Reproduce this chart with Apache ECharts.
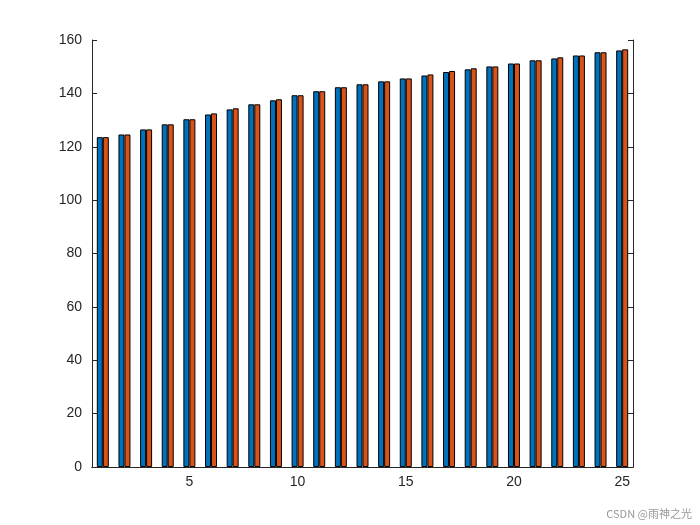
<!DOCTYPE html>
<html>
<head>
<meta charset="utf-8">
<script src="https://cdn.jsdelivr.net/npm/echarts@6/dist/echarts.min.js"></script>
<style>html,body{margin:0;padding:0;background:#fff}#c{width:700px;height:525px}</style>
</head>
<body>
<div id="c"></div>
<script>
// categories 1..25
const categories = ['1','2','3','4','5','6','7','8','9','10','11','12','13','14','15','16','17','18','19','20','21','22','23','24','25'];
const seriesA = [123.6,124.6,126.5,128.4,130.3,132.1,134.0,135.9,137.4,139.3,140.8,142.3,143.4,144.5,145.6,146.7,148.0,149.0,150.1,151.2,152.4,153.1,154.2,155.4,156.1];
const seriesB = [123.6,124.6,126.5,128.4,130.3,132.5,134.4,135.9,137.8,139.3,140.8,142.3,143.4,144.5,145.6,147.1,148.4,149.4,150.1,151.2,152.4,153.5,154.2,155.4,156.5];
const yTicks = [0,20,40,60,80,100,120,140,160];

const showTick = (i) => (i + 1) % 5 === 0;
const axisLine = { show: true, lineStyle: { color: '#262626', width: 1 } };
const font = { color: '#262626', fontSize: 14, fontFamily: 'Liberation Sans, Arial' };

const chart = echarts.init(document.getElementById('c'));
chart.setOption({
  animation: false,
  grid: { left: 92, right: 67, top: 40, bottom: 58 },
  xAxis: [
    {
      type: 'category', data: categories, axisLine: axisLine,
      axisTick: { inside: true, alignWithLabel: true, interval: showTick, length: 5, lineStyle: { color: '#262626' } },
      axisLabel: Object.assign({ interval: showTick, margin: 8 }, font),
      splitLine: { show: false }
    },
    {
      type: 'category', data: categories, position: 'top', axisLine: axisLine,
      axisTick: { inside: true, alignWithLabel: true, interval: showTick, length: 5, lineStyle: { color: '#262626' } },
      axisLabel: { show: false }
    }
  ],
  yAxis: [
    {
      type: 'value', min: 0, max: 160, interval: 20, axisLine: axisLine,
      axisTick: { show: true, inside: true, length: 5, lineStyle: { color: '#262626' } },
      axisLabel: Object.assign({ margin: 10 }, font),
      splitLine: { show: false }
    },
    {
      type: 'value', min: 0, max: 160, interval: 20, position: 'right', axisLine: axisLine,
      axisTick: { show: true, inside: true, length: 5, lineStyle: { color: '#262626' } },
      axisLabel: { show: false }, splitLine: { show: false }
    }
  ],
  series: [
    { type: 'bar', data: seriesA, barWidth: 6, barGap: '0%',
      itemStyle: { color: '#0072BD', borderColor: '#000', borderWidth: 1 } },
    { type: 'bar', data: seriesB, barWidth: 6, barGap: '0%',
      itemStyle: { color: '#D95319', borderColor: '#000', borderWidth: 1 } }
  ],
  graphic: [{ type: 'text', right: 8, bottom: 6,
    style: { text: 'CSDN @雨神之光', fill: '#999', fontSize: 11, fontFamily: 'Noto Sans CJK SC' } }]
});
</script>
</body>
</html>
